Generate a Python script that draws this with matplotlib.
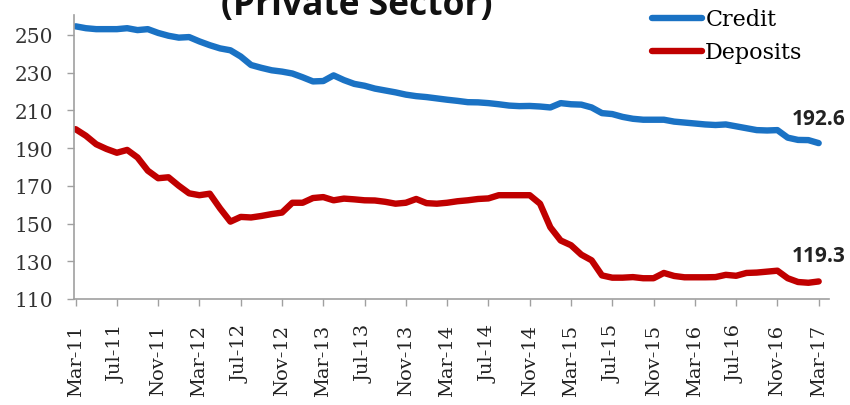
import matplotlib.pyplot as plt

# monthly series, Mar-2011 .. Mar-2017
credit = [254.5, 253.5, 253.0, 253.0, 253.0, 253.5, 252.5, 253.0, 251.0, 249.5,
          248.5, 248.8, 246.5, 244.5, 242.8, 241.8, 238.5, 234.0, 232.5, 231.2,
          230.5, 229.5, 227.5, 225.3, 225.5, 228.5, 226.0, 224.0, 223.0, 221.5,
          220.5, 219.5, 218.3, 217.5, 217.0, 216.3, 215.6, 215.0, 214.3, 214.2,
          213.8, 213.2, 212.5, 212.2, 212.3, 212.0, 211.5, 213.8, 213.2, 213.0,
          211.5, 208.5, 208.0, 206.5, 205.5, 205.0, 205.0, 205.0, 204.0, 203.5,
          203.0, 202.5, 202.2, 202.5, 201.5, 200.5, 199.5, 199.3, 199.5, 195.5,
          194.3, 194.2, 192.6]
deposits = [200.0, 196.5, 192.0, 189.5, 187.5, 189.0, 185.0, 178.0, 174.0, 174.5,
            170.0, 166.0, 165.0, 165.8, 158.0, 151.0, 153.5, 153.2, 154.0, 155.0,
            155.8, 161.0, 161.0, 163.5, 164.0, 162.3, 163.2, 162.8, 162.3, 162.2,
            161.5, 160.5, 161.0, 163.0, 160.8, 160.5, 161.0, 161.8, 162.3, 163.0,
            163.3, 165.0, 165.0, 165.0, 165.0, 160.5, 148.0, 141.0, 138.5, 133.5,
            130.5, 122.5, 121.3, 121.3, 121.6, 121.0, 121.0, 123.8, 122.2, 121.5,
            121.5, 121.5, 121.6, 122.8, 122.3, 123.8, 124.0, 124.5, 125.0, 121.0,
            119.0, 118.6, 119.3]
tick_labels = ["Mar-11", "Jul-11", "Nov-11", "Mar-12", "Jul-12", "Nov-12",
               "Mar-13", "Jul-13", "Nov-13", "Mar-14", "Jul-14", "Nov-14",
               "Mar-15", "Jul-15", "Nov-15", "Mar-16", "Jul-16", "Nov-16", "Mar-17"]
y_ticks = [110, 130, 150, 170, 190, 210, 230, 250]

months = list(range(len(credit)))

fig = plt.figure(figsize=(8.5, 4.06), dpi=100)
ax = fig.add_axes([0.0871, 0.2611, 0.8882, 0.6995])

ax.plot(months, credit, color="#1a72c4", lw=4.6, solid_capstyle="round", label="Credit")
ax.plot(months, deposits, color="#c00000", lw=4.6, solid_capstyle="round", label="Deposits")

ax.set_xlim(-0.15, 73)
ax.set_ylim(110, 260.5)
ax.set_xticks(months[::4])
ax.set_xticklabels(tick_labels, rotation=90, family="DejaVu Serif", fontsize=14, color="#222222")
ax.set_yticks(y_ticks)
ax.set_yticklabels([str(v) for v in y_ticks], family="DejaVu Serif", fontsize=14.5, color="#333333")
ax.tick_params(axis="both", length=5, width=1, color="#a0a0a0")
ax.tick_params(axis="x", pad=13)
ax.tick_params(axis="y", pad=10)

for s in ["top", "right"]:
    ax.spines[s].set_visible(False)
for s in ["left", "bottom"]:
    ax.spines[s].set_color("#a0a0a0")
    ax.spines[s].set_linewidth(1.2)

# end-point labels
ax.annotate(f"{credit[-1]:.1f}", (months[-1], credit[-1]), xytext=(19, 18),
            textcoords="offset points", ha="right", va="center", annotation_clip=False,
            fontsize=15, fontweight="bold", family="Open Sans", color="#222222")
ax.annotate(f"{deposits[-1]:.1f}", (months[-1], deposits[-1]), xytext=(19, 19),
            textcoords="offset points", ha="right", va="center", annotation_clip=False,
            fontsize=15, fontweight="bold", family="Open Sans", color="#222222")

leg = fig.legend(loc="upper left", bbox_to_anchor=(0.767, 0.977), frameon=False,
                 borderpad=0, borderaxespad=0,
                 prop={"family": "DejaVu Serif", "size": 16}, handlelength=2.25,
                 handletextpad=0.15, labelspacing=0.5)

# title is clipped at the top edge, as in the source image
fig.text(0.42, 0.963, "(Private Sector)", ha="center", va="baseline",
         fontsize=25.5, fontweight="bold", family="Open Sans", color="#111111")

fig.savefig("out.png", dpi=100)
